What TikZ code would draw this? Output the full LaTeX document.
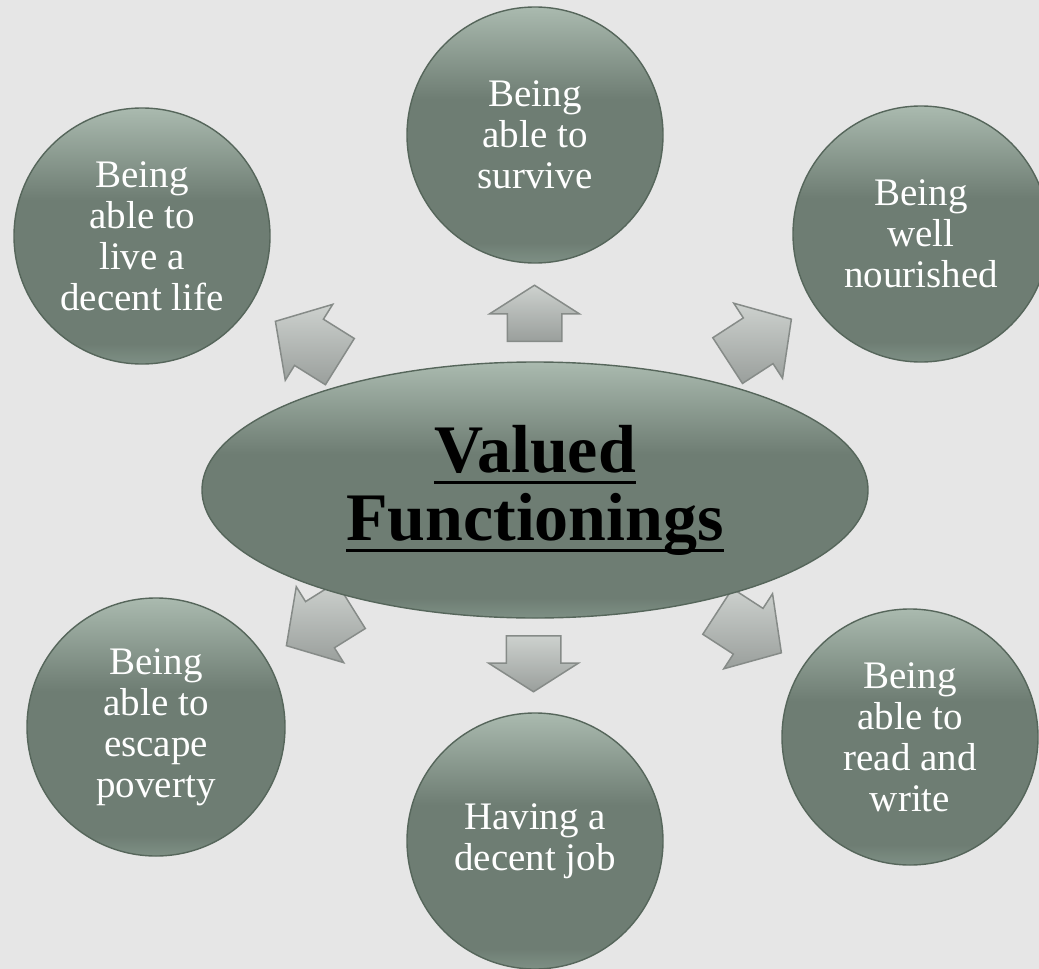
\documentclass[tikz,border=0pt]{standalone}
\usepackage{fontspec}
\setmainfont{Liberation Serif}
\usetikzlibrary{shapes.geometric,shapes.arrows}

\definecolor{slidebg}{HTML}{E6E6E6}
\definecolor{disctop}{HTML}{AABAAF}
\definecolor{discmid}{HTML}{6E7D73}
\definecolor{discbot}{HTML}{7E9085}
\definecolor{discline}{HTML}{56665B}
\definecolor{arrtop}{HTML}{CDD1CE}
\definecolor{arrbot}{HTML}{9A9F9C}
\definecolor{arrline}{HTML}{868B88}

% light rim on top, flat body, slightly lighter at the bottom
\pgfdeclareverticalshading{discshade}{100bp}{color(0bp)=(discbot); color(25bp)=(discbot); color(29bp)=(discmid); color(57bp)=(discmid); color(75bp)=(disctop); color(100bp)=(disctop)}

% heavy underline at a fixed depth
\newcommand{\thickul}[1]{\leavevmode\setbox0\hbox{#1}\rlap{\rule[-6.2pt]{\wd0}{1.5pt}}\box0}

\tikzset{
	disc/.style={circle,draw=discline,line width=0.7pt,shading=discshade,inner sep=0pt,minimum size=128pt,
		text=white,align=center,font=\fontsize{19.5}{20.5}\selectfont},
	hub/.style={ellipse,draw=discline,line width=0.7pt,shading=discshade,inner sep=0pt,
		minimum width=333pt,minimum height=128pt,align=center,font=\fontsize{34}{34}\selectfont\bfseries},
	blockarrow/.style={single arrow,draw=arrline,line width=0.75pt,inner xsep=0pt,inner ysep=13.25pt,
		anchor=tail,single arrow head extend=8.75pt,
		top color=arrtop,bottom color=arrbot,rotate=#1},
	straight/.style={minimum height=28pt,single arrow tip angle=115},
	slanted/.style={minimum height=38pt,single arrow tip angle=97}
}

\begin{document}
\begin{tikzpicture}[x=0.5pt,y=-0.5pt]
	\fill[slidebg] (0,0) rectangle (1039,969);
	\useasboundingbox (0,0) rectangle (1039,969);

	% arrows pointing outwards, drawn first so the hub covers their tails
	\node[blockarrow=90,straight] (aup) at (534.5,342) {};
	\node[blockarrow=-90,straight] (adown) at (533.5,635) {};
	\node[blockarrow=148,slanted] (aul) at (340.5,362) {};
	\node[blockarrow=33,slanted] (aur) at (727,361) {};
	\node[blockarrow=-148,slanted] (all) at (351.5,605) {};
	\node[blockarrow=-33,slanted] (alr) at (717,611) {};

	\node[hub] (hub) at (535,490) {\thickul{Valued}\\\thickul{Functionings}};

	\node[disc] (live) at (142,236) {Being\\able to\\live a\\decent life};
	\node[disc] (surv) at (535,135) {Being\\able to\\survive};
	\node[disc] (nour) at (921,234) {Being\\well\\nourished};
	\node[disc] (read) at (910,737) {Being\\able to\\read and\\write};
	\node[disc] (job) at (535,841) {Having a\\decent job};
	\node[disc,minimum size=129pt] (esc) at (156,727) {Being\\able to\\escape\\poverty};
\end{tikzpicture}
\end{document}
